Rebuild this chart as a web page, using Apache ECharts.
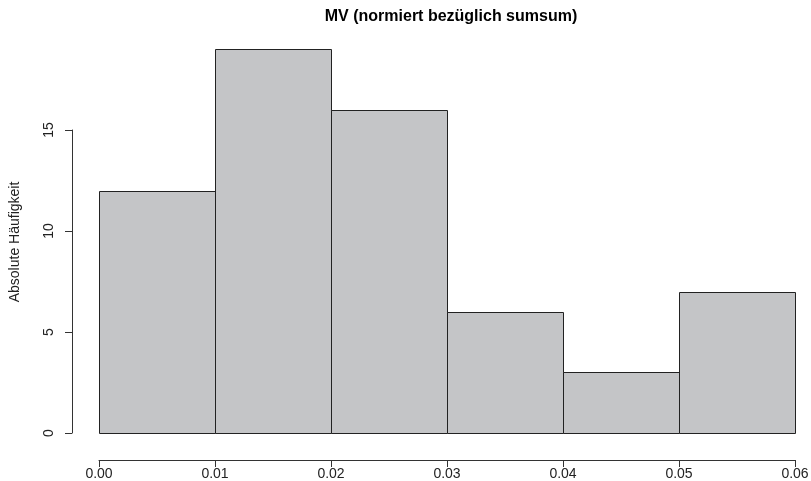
<!DOCTYPE html>
<html>
<head>
<meta charset="utf-8">
<script src="https://cdn.jsdelivr.net/npm/echarts@6/dist/echarts.min.js"></script>
<style>
  html, body { margin: 0; padding: 0; background: #ffffff; }
  #chart { width: 811px; height: 481px; }
</style>
</head>
<body>
<div id="chart"></div>
<script>
// Histogram bin edges and counts
const breaks = [0.00, 0.01, 0.02, 0.03, 0.04, 0.05, 0.06];
const counts = [12, 19, 16, 6, 3, 7];
const xTicks = [0.00, 0.01, 0.02, 0.03, 0.04, 0.05, 0.06];
const yTicks = [0, 5, 10, 15];

const titleText = 'MV (normiert bezüglich sumsum)';
const yName = 'Absolute Häufigkeit';

const bins = counts.map((c, i) => [breaks[i], breaks[i + 1], c]);

const chart = echarts.init(document.getElementById('chart'), null, { renderer: 'canvas' });

const font = 'Liberation Sans, Arial, Helvetica, sans-serif';
const axisColor = '#333';
const labelColor = '#222';

chart.setOption({
  animation: false,
  backgroundColor: '#ffffff',
  title: {
    text: titleText,
    left: 446,
    top: 4,
    textAlign: 'center',
    textStyle: { fontFamily: font, fontSize: 16, fontWeight: 'bold', color: '#000' }
  },
  grid: [
    // bars
    { left: 99, right: 16, top: 29, bottom: 48, outerBoundsMode: 'none' },
    // y axis spanning the tick range only
    { left: 99, right: 16, top: 130, bottom: 48, outerBoundsMode: 'none' },
    // full plot box, carries the y axis title
    { left: 72, right: 16, top: 24, bottom: 21, outerBoundsMode: 'none' }
  ],
  xAxis: [
    {
      gridIndex: 0,
      type: 'value',
      min: xTicks[0],
      max: xTicks[xTicks.length - 1],
      interval: 0.01,
      offset: 27,
      axisLine: { show: true, onZero: false, lineStyle: { color: axisColor, width: 1 } },
      axisTick: { show: true, length: 7, lineStyle: { color: axisColor } },
      axisLabel: {
        fontFamily: font, fontSize: 14, color: labelColor, margin: 7,
        formatter: v => v.toFixed(2)
      },
      splitLine: { show: false }
    },
    { gridIndex: 1, type: 'value', min: 0, max: 0.06, show: false },
    { gridIndex: 2, type: 'value', min: 0, max: 1, show: false }
  ],
  yAxis: [
    { gridIndex: 0, type: 'value', min: 0, max: 20, show: false },
    {
      gridIndex: 1,
      type: 'value',
      min: yTicks[0],
      max: yTicks[yTicks.length - 1],
      interval: 5,
      offset: 27,
      axisLine: { show: true, onZero: false, lineStyle: { color: axisColor, width: 1 } },
      axisTick: { show: true, length: 7, lineStyle: { color: axisColor } },
      axisLabel: {
        fontFamily: font, fontSize: 14, color: labelColor, rotate: 90, margin: 16
      },
      splitLine: { show: false }
    },
    {
      gridIndex: 2,
      type: 'value',
      min: 0,
      max: 1,
      name: yName,
      nameLocation: 'middle',
      nameGap: 50,
      nameRotate: 90,
      nameTextStyle: { fontFamily: font, fontSize: 14, color: labelColor },
      axisLine: { show: false, onZero: false },
      axisTick: { show: false },
      axisLabel: { show: false },
      splitLine: { show: false }
    }
  ],
  series: [
    {
      type: 'custom',
      xAxisIndex: 0,
      yAxisIndex: 0,
      data: bins,
      renderItem: function (params, api) {
        const p0 = api.coord([api.value(0), 0]);
        const p1 = api.coord([api.value(1), api.value(2)]);
        return {
          type: 'rect',
          shape: {
            x: Math.round(p0[0]) + 0.5,
            y: Math.round(p1[1]) + 0.5,
            width: Math.round(p1[0]) - Math.round(p0[0]),
            height: Math.round(p0[1]) - Math.round(p1[1])
          },
          style: { fill: '#c4c5c7', stroke: '#222', lineWidth: 1 }
        };
      }
    }
  ]
});
</script>
</body>
</html>
